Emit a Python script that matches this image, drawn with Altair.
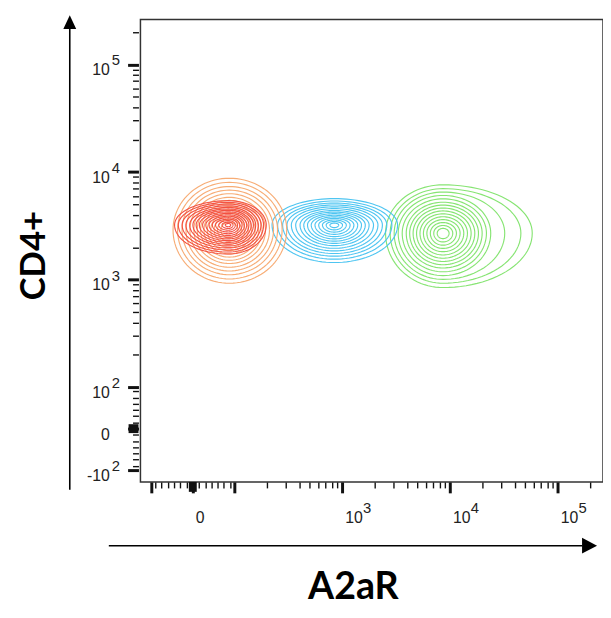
import numpy as np
import pandas as pd
import altair as alt

# ---------------- axis ticks (fluorescence units) ----------------
major_ticks = [-100, 0, 100, 1000, 10000, 100000]
minor_linear = [-90, -75, -60, -45, -30, -15, 15, 30, 45, 60, 75, 90]
minor_log = [200, 300, 400, 500, 600, 700, 800, 900,
             2000, 3000, 4000, 5000, 6000, 7000, 8000, 9000,
             20000, 30000, 40000, 50000, 60000, 70000, 80000, 90000,
             200000]
zero_value = [0]
axis_max = 262144
x_axis_min = -126
y_axis_min = -129

x_label_values = [0, 1000, 10000, 100000]
x_label_base = ["0", "10", "10", "10"]
x_label_sup = ["", "3", "4", "5"]
y_label_values = [-100, 0, 100, 1000, 10000, 100000]
y_label_base = ["-10", "0", "10", "10", "10", "10"]
y_label_sup = ["2", "", "2", "3", "4", "5"]

x_title = ["A2aR"]
y_title = ["CD4+"]

# ---------------- populations (contour sets) ----------------
populations = ["green", "blue", "orange", "red"]          # drawing order
pop_colors = ["#80E36A", "#45C2F0", "#F7A86E", "#F24A3C"]
pop_center_x = [8600, 845, 88, 86]       # A2aR at density peak
pop_center_y = [2700, 3220, 2900, 3220]  # CD4 at density peak
# outer contour half-widths in display decades: left, right, top, bottom
pop_left = [0.532, 0.577, 0.522, 0.500]
pop_right = [0.568, 0.587, 0.532, 0.350]
pop_top = [0.450, 0.245, 0.480, 0.226]
pop_bottom = [0.505, 0.349, 0.496, 0.270]
# extra reach of the outermost green contours to the right
green_right_lobe = [0.26, 0.20, 0.09]
pop_levels = [
    [1.0, 0.92, 0.85, 0.78, 0.71, 0.64, 0.58, 0.52, 0.46, 0.40, 0.34, 0.28, 0.22, 0.16, 0.10],
    [1.0, 0.91, 0.83, 0.76, 0.69, 0.62, 0.55, 0.49, 0.43, 0.37, 0.31, 0.25, 0.19, 0.13, 0.07],
    [1.0, 0.92, 0.84, 0.77, 0.70, 0.63, 0.57, 0.51, 0.45, 0.39, 0.33, 0.27, 0.21, 0.15],
    [1.0, 0.93, 0.86, 0.79, 0.72, 0.66, 0.60, 0.54, 0.48, 0.42, 0.36, 0.30, 0.24, 0.18, 0.12, 0.06],
]

LIN = 0.385  # display width of the 0..100 linear region, in decades


def biex(v):
    v = np.asarray(v, dtype=float)
    a = np.abs(v)
    out = np.where(a <= 100, a / 100 * LIN, np.log10(np.maximum(a, 100)) - 2 + LIN)
    return np.sign(v) * out


def tolist(a):
    return [float(x) for x in np.atleast_1d(a)]


x_dom = [float(biex(x_axis_min)), float(biex(axis_max))]
y_dom = [float(biex(y_axis_min)), float(biex(axis_max))]
xs = alt.Scale(domain=x_dom, nice=False, zero=False)
ys = alt.Scale(domain=y_dom, nice=False, zero=False)

major_pos = tolist(biex(major_ticks))
tick_pos = sorted(major_pos + tolist(biex(minor_linear)) + tolist(biex(minor_log)))
major_expr = ("datum.value == 0 || abs(abs(datum.value) - {l} - round(abs(datum.value) - {l})) < 0.000001"
              .format(l=LIN))

tick_size = {"condition": {"test": major_expr, "value": 11}, "value": 6}
tick_width = {"condition": {"test": major_expr, "value": 3}, "value": 1.4}

xaxis = alt.Axis(values=tick_pos, labels=False, title=None, grid=False, domain=False,
                 tickColor="#111", tickSize=tick_size, tickWidth=tick_width)
yaxis = alt.Axis(values=tick_pos, labels=False, title=None, grid=False, domain=False,
                 tickColor="#111", tickSize=tick_size, tickWidth=tick_width, offset=2)

# ---------------- contour geometry ----------------
angles = np.linspace(0, 2 * np.pi, 97)
layers = []
for i, pop in enumerate(populations):
    cx = float(biex(pop_center_x[i]))
    cy = float(biex(pop_center_y[i]))
    rows = []
    for k, f in enumerate(pop_levels[i]):
        L = pop_left[i] * f
        R = pop_right[i] * f
        if pop == "green" and k < len(green_right_lobe):
            R += green_right_lobe[k]
        T = pop_top[i] * f
        B = pop_bottom[i] * f
        c = np.cos(angles)
        s = np.sin(angles)
        xx = cx + np.where(c > 0, R, L) * c
        yy = cy + np.where(s > 0, T, B) * s
        for j in range(len(angles)):
            rows.append({"x": xx[j], "y": yy[j], "level": k, "idx": j})
    df = pd.DataFrame(rows)
    layers.append(
        alt.Chart(df).mark_line(strokeWidth=1.15, color=pop_colors[i], opacity=0.95, clip=True).encode(
            x=alt.X("x:Q", scale=xs, axis=xaxis),
            y=alt.Y("y:Q", scale=ys, axis=yaxis),
            detail="level:N",
            order="idx:Q",
        )
    )

# ---------------- zero-region tick blobs ----------------
zero_df = pd.DataFrame({"z": tolist(biex(zero_value))})
layers.append(alt.Chart(zero_df).mark_rule(color="#111", strokeWidth=8).encode(
    x=alt.X("z:Q", scale=xs, axis=xaxis), y=alt.value(468), y2=alt.value(478)))
layers.append(alt.Chart(zero_df).mark_rule(color="#111", strokeWidth=9).encode(
    y=alt.Y("z:Q", scale=ys, axis=yaxis), x=alt.value(-12), x2=alt.value(-2)))

# ---------------- tick labels ----------------
label_font = "Liberation Sans"
xlab = pd.DataFrame({"pos": tolist(biex(x_label_values)), "base": x_label_base, "sup": x_label_sup})
ylab = pd.DataFrame({"pos": tolist(biex(y_label_values)), "base": y_label_base, "sup": y_label_sup})

layers.append(alt.Chart(xlab).mark_text(align="left", baseline="alphabetic", dx=3, font=label_font,
                                        fontSize=16, color="#222").encode(
    x=alt.X("pos:Q", scale=xs, axis=xaxis), y=alt.value(510), text="base:N"))
layers.append(alt.Chart(xlab).mark_text(align="left", baseline="alphabetic", dx=21, font=label_font,
                                        fontSize=15, color="#222").encode(
    x=alt.X("pos:Q", scale=xs, axis=xaxis), y=alt.value(499), text="sup:N"))
layers.append(alt.Chart(ylab).mark_text(align="right", baseline="alphabetic", dy=11, font=label_font,
                                        fontSize=16, color="#222").encode(
    y=alt.Y("pos:Q", scale=ys, axis=yaxis), x=alt.value(-31), text="base:N"))
layers.append(alt.Chart(ylab).mark_text(align="left", baseline="alphabetic", dy=1, font=label_font,
                                        fontSize=15, color="#222").encode(
    y=alt.Y("pos:Q", scale=ys, axis=yaxis), x=alt.value(-29), text="sup:N"))

# ---------------- titles ----------------
title_font = "Lato"
layers.append(alt.Chart(pd.DataFrame({"t": y_title})).mark_text(
    angle=270, align="center", baseline="middle", font=title_font, fontWeight="bold",
    fontSize=35, color="black").encode(x=alt.value(-108), y=alt.value(239), text="t:N"))
layers.append(alt.Chart(pd.DataFrame({"t": x_title})).mark_text(
    align="center", baseline="alphabetic", font=title_font, fontWeight="bold",
    fontSize=38, color="black").encode(x=alt.value(215.5), y=alt.value(586), text="t:N"))

# ---------------- arrows ----------------
one = pd.DataFrame({"a": [0]})
layers.append(alt.Chart(one).mark_rule(color="black", strokeWidth=1.6).encode(
    x=alt.value(-71.5), y=alt.value(476), y2=alt.value(9)))
layers.append(alt.Chart(one).mark_point(shape="M0,-1L-0.93,1L0.93,1Z", filled=True, size=196,
                                        color="black", opacity=1).encode(
    x=alt.value(-71.5), y=alt.value(2.7)))
layers.append(alt.Chart(one).mark_rule(color="black", strokeWidth=1.6).encode(
    x=alt.value(-32), x2=alt.value(447), y=alt.value(532.5)))
layers.append(alt.Chart(one).mark_point(shape="M1,0L-0.9,-1L-0.9,1Z", filled=True, size=256,
                                        color="black", opacity=1).encode(
    x=alt.value(454), y=alt.value(532.5)))

chart = alt.layer(*layers).properties(
    width=468, height=468,
    autosize=alt.AutoSizeParams(type="none"),
    padding={"left": 134, "top": 8, "right": 0, "bottom": 126},
    background="white",
).configure_view(stroke="#333", strokeWidth=1.5)

chart.save("out.html", embed_options={"renderer": "svg", "actions": False})
